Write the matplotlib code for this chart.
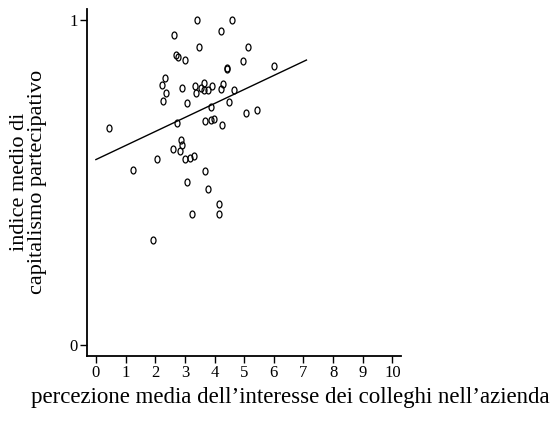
import numpy as np
import matplotlib
matplotlib.use("Agg")
import matplotlib.pyplot as plt
from matplotlib.path import Path

# valori
interesse_colleghi = [3.42, 4.59, 2.64, 4.22, 3.48, 5.14, 2.71, 2.76, 3.01, 4.95,
                      6.01, 4.42, 4.42, 2.33, 2.24, 2.35, 2.26, 2.90, 3.33, 3.39,
                      3.54, 3.63, 3.63, 3.79, 3.91, 4.22, 4.29, 4.66, 3.08, 4.48,
                      3.87, 5.07, 5.43, 0.45, 2.72, 3.69, 3.89, 3.97, 4.24, 2.87,
                      2.89, 2.60, 2.82, 2.07, 2.99, 3.18, 3.31, 1.24, 3.69, 3.08,
                      3.79, 4.16, 3.23, 4.16, 1.92]
capitalismo_partecipativo = [1.001, 1.000, 0.955, 0.969, 0.919, 0.919, 0.895, 0.888, 0.878, 0.875,
                             0.859, 0.852, 0.849, 0.824, 0.801, 0.775, 0.752, 0.792, 0.798, 0.777,
                             0.792, 0.808, 0.785, 0.787, 0.797, 0.790, 0.803, 0.787, 0.747, 0.748,
                             0.734, 0.716, 0.723, 0.669, 0.683, 0.690, 0.692, 0.695, 0.679, 0.631,
                             0.617, 0.603, 0.597, 0.573, 0.573, 0.575, 0.581, 0.538, 0.535, 0.502,
                             0.481, 0.433, 0.403, 0.403, 0.323]
fit_x = [0.0, 7.1]
fit_y = [0.571, 0.878]
x_ticks = [0, 1, 2, 3, 4, 5, 6, 7, 8, 9, 10]
y_ticks = [0, 1]

plt.rcParams['font.family'] = ['Liberation Serif', 'DejaVu Serif']

# marker ovale (come uno "0")
circ = Path.unit_circle()
oval = Path(circ.vertices * np.array([0.72, 1.0]), circ.codes)

fig = plt.figure(figsize=(5.57, 4.25), dpi=100)
ax = fig.add_axes([0.1567, 0.163, 0.5633, 0.817])

ax.plot(interesse_colleghi, capitalismo_partecipativo, linestyle='none',
        marker=oval, markersize=5, markerfacecolor='none',
        markeredgecolor='black', markeredgewidth=0.9)
ax.plot(fit_x, fit_y, color='black', linewidth=1.0)

ax.set_xlim(-0.29, 10.29)
ax.set_ylim(-0.034, 1.037)
ax.set_xticks(x_ticks)
ax.set_yticks(y_ticks)
ax.tick_params(axis='both', direction='out', length=5, width=1.0,
               labelsize=12, pad=2)
for s in ['top', 'right']:
    ax.spines[s].set_visible(False)
for s in ['left', 'bottom']:
    ax.spines[s].set_linewidth(1.3)

ax.set_ylabel('indice medio di\ncapitalismo partecipativo', fontsize=16,
              linespacing=0.95, labelpad=16)
fig.text(290 / 557, 1 - 397 / 425,
         'percezione media dell\u2019interesse dei colleghi nell\u2019azienda',
         ha='center', va='center', fontsize=16.5)

fig.savefig('out.png', dpi=100)
